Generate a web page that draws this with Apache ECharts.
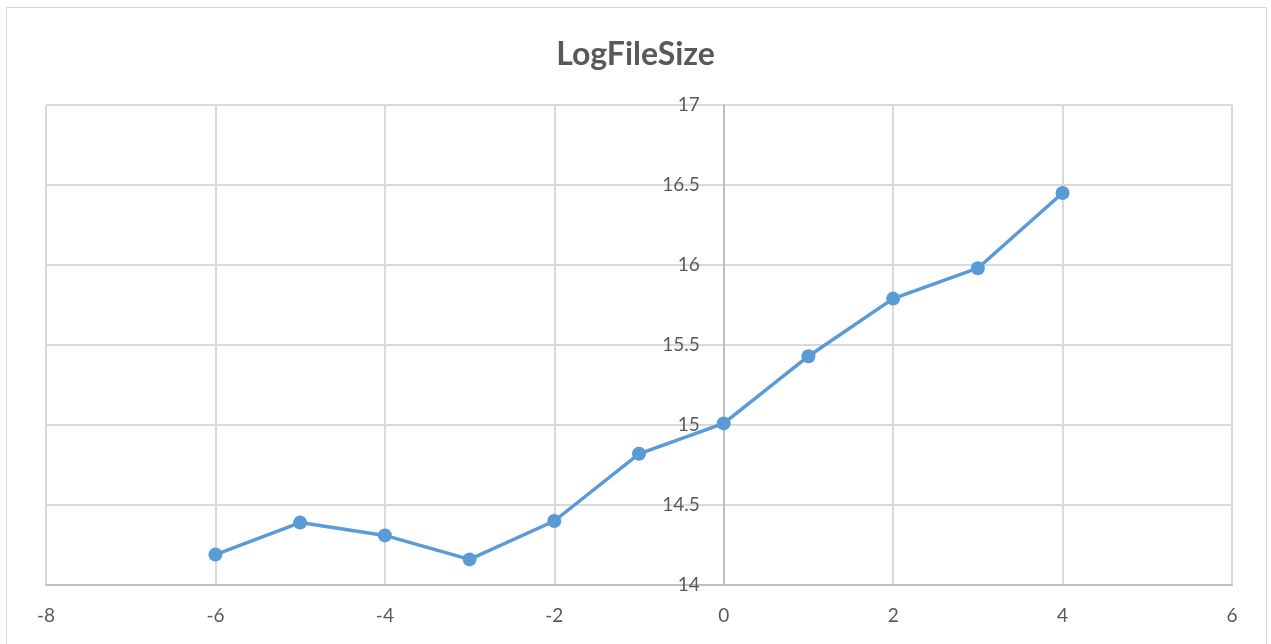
<!DOCTYPE html>
<html>
<head>
<meta charset="utf-8">
<script src="https://cdn.jsdelivr.net/npm/echarts@6/dist/echarts.min.js"></script>
<style>
  html, body { margin: 0; padding: 0; background: #fff; }
  #frame { position: absolute; left: 6px; top: 7px; width: 1261px; height: 660px; border: 1px solid #d9d9d9; box-sizing: border-box; }
  #chart { position: absolute; left: 0; top: 0; width: 1271px; height: 644px; }
</style>
</head>
<body>
<div id="frame"></div>
<div id="chart"></div>
<script>
// Period offsets and the log of the file size at each offset
const offsets = [-6, -5, -4, -3, -2, -1, 0, 1, 2, 3, 4];
const logFileSize = [14.19, 14.39, 14.31, 14.16, 14.40, 14.82, 15.01, 15.43, 15.79, 15.98, 16.45];
const titleText = 'LogFileSize';

const chart = echarts.init(document.getElementById('chart'), null, { renderer: 'canvas' });
const font = 'Lato, "Open Sans", sans-serif';
const gridLeft = 46;

chart.setOption({
  backgroundColor: 'transparent',
  animation: false,
  title: {
    text: titleText,
    left: 'center',
    top: 34,
    textStyle: { fontFamily: font, fontSize: 32, fontWeight: 'bold', color: '#595959' }
  },
  grid: { left: gridLeft, right: 39, top: 105, bottom: 59, containLabel: false, outerBoundsMode: 'none' },
  xAxis: {
    type: 'value',
    min: -8, max: 6, interval: 2,
    axisLine: { onZero: false, lineStyle: { color: '#bfbfbf', width: 2 } },
    axisTick: { show: false },
    axisLabel: { margin: 21, fontFamily: font, fontSize: 19, color: '#595959' },
    splitLine: { show: true, lineStyle: { color: '#d9d9d9', width: 2 } }
  },
  yAxis: {
    type: 'value',
    min: 14, max: 17, interval: 0.5,
    position: 'left',
    axisLine: { show: true, onZero: false, lineStyle: { color: '#bfbfbf', width: 2 } },
    axisTick: { show: false },
    axisLabel: { margin: 24, fontFamily: font, fontSize: 19, color: '#595959' },
    splitLine: { show: true, lineStyle: { color: '#d9d9d9', width: 2 } }
  },
  series: [{
    type: 'line',
    data: offsets.map((x, i) => [x, logFileSize[i]]),
    symbol: 'circle',
    symbolSize: 14,
    lineStyle: { color: '#5b9bd5', width: 3.5 },
    itemStyle: { color: '#5b9bd5' }
  }]
});

// The value axis crosses the category axis at x = 0, with its labels beside it
const zeroX = chart.convertToPixel({ xAxisIndex: 0 }, 0);
chart.setOption({ yAxis: { offset: -(zeroX - gridLeft) } });
</script>
</body>
</html>
